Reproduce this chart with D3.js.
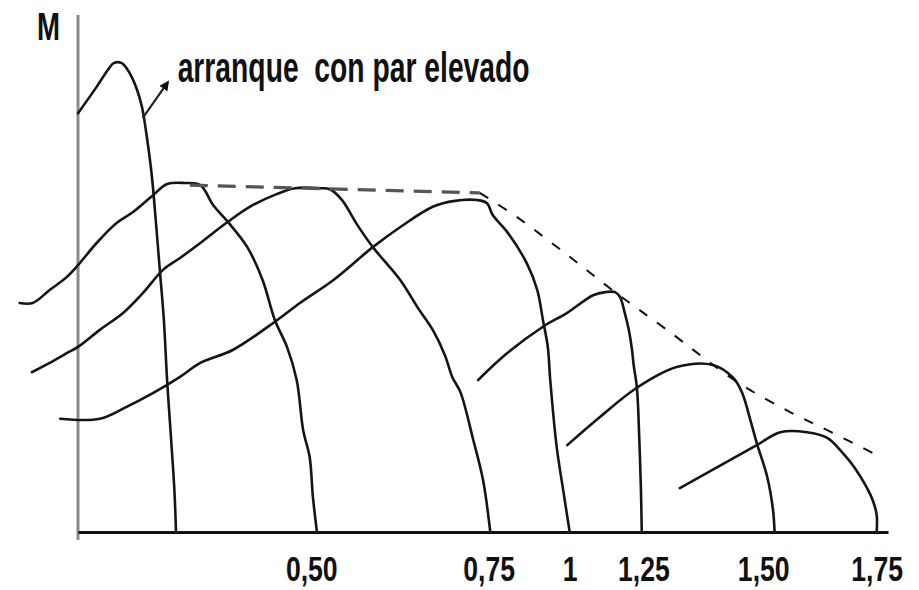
<!DOCTYPE html>
<html>
<head>
<meta charset="utf-8">
<script src="https://cdn.jsdelivr.net/npm/d3@7"></script>
<style>
  html, body { margin: 0; padding: 0; background: #fff; }
  svg { display: block; }
  text { font-family: "Liberation Sans", Arial, sans-serif; font-weight: bold; fill: #111; }
</style>
</head>
<body>
<svg id="chart" width="919" height="590"></svg>
<script>
// Speed axis in percent of axis length, torque (M) in percent of axis height.
const curveNames = ["arranque", "f1", "f2", "f3", "f4", "f5", "f6"];

const speedArranque = [0, 2.3, 3.7, 4.4, 5.4, 6.0, 6.7, 7.3, 7.9, 8.5, 9.1, 9.6, 10.1, 10.6, 11.0, 11.5, 11.9, 12.1];
const torqueArranque = [81.0, 86.1, 89.4, 90.7, 90.7, 89.7, 87.8, 85.5, 82.2, 76.4, 69.1, 60.3, 50.7, 41.0, 29.4, 17.8, 8.1, 0];

const speedF1 = [-7.2, -5.6, -3.5, -1.4, 0, 2.3, 4.8, 6.8, 9.3, 11.0, 13.2, 15.1, 16.7, 18.5, 20.9, 22.8, 24.3, 25.8, 27.0, 27.8, 28.6, 29.0, 29.5];
const torqueF1 = [44.3, 44.3, 46.8, 49.3, 51.6, 55.9, 59.8, 61.9, 65.2, 67.3, 67.5, 67.1, 63.2, 60.0, 55.1, 48.7, 41.0, 35.8, 29.4, 19.7, 14.5, 6.8, 0];

const speedF2 = [-5.7, -3.5, -1.4, 0, 2.7, 5.6, 8.0, 10.5, 12.6, 15.1, 18.5, 21.2, 24.6, 26.8, 29.9, 31.1, 32.6, 34.4, 36.4, 39.8, 41.9, 43.8, 45.3, 46.2, 47.2, 48.8, 50.0, 50.9];
const torqueF2 = [30.9, 32.7, 34.6, 35.8, 39.1, 42.4, 46.2, 50.7, 53.0, 55.9, 60.0, 62.9, 65.4, 66.5, 66.5, 66.3, 64.2, 59.6, 55.1, 48.7, 43.5, 39.1, 34.2, 30.0, 27.1, 17.8, 10.1, 0];

const speedF3 = [-2.2, 2.7, 6.0, 9.3, 12.6, 15.1, 19.1, 24.6, 27.4, 31.5, 36.4, 39.8, 43.8, 46.3, 49.3, 50.5, 51.2, 53.0, 55.4, 56.7, 57.4, 58.0, 58.3, 59.1, 59.9, 60.7];
const torqueF3 = [21.9, 21.9, 24.2, 26.9, 30.0, 32.7, 35.2, 41.0, 44.3, 48.7, 55.1, 59.0, 62.9, 64.0, 64.2, 63.6, 61.3, 58.0, 52.0, 46.8, 41.0, 35.8, 29.4, 16.4, 8.1, 0];

const speedF4 = [49.4, 53.0, 57.4, 60.4, 63.6, 65.1, 66.3, 66.9, 67.5, 68.0, 68.4, 68.6, 69.0, 69.3, 69.5, 69.6];
const torqueF4 = [29.4, 34.6, 39.7, 42.4, 45.8, 46.4, 46.4, 45.5, 42.4, 39.1, 35.2, 32.3, 27.9, 17.8, 8.1, 0];

const speedF5 = [60.4, 64.4, 69.0, 73.9, 78.4, 80.9, 82.0, 83.0, 83.8, 85.1, 85.8, 86.0];
const torqueF5 = [16.8, 22.2, 27.9, 31.9, 32.3, 29.8, 26.9, 21.7, 17.2, 10.6, 4.3, 0];

const speedF6 = [74.3, 83.8, 86.7, 90.0, 92.5, 94.4, 95.9, 97.2, 98.1, 98.6, 98.6];
const torqueF6 = [8.5, 16.8, 19.3, 19.3, 18.2, 15.3, 12.4, 9.1, 6.2, 3.3, 0];

// Envelope of maximum torque: constant part, then falling part
const envFlatSpeed = [13.8, 49.6];
const envFlatTorque = [67.1, 65.6];
const envFallSpeed = [49.6, 54.2, 60.4, 66.3, 72.7, 81.4, 87.9, 92.5, 98.6];
const envFallTorque = [65.6, 60.9, 53.6, 46.4, 39.1, 29.0, 23.2, 19.7, 14.9];

// Speed tick labels (synchronous speeds)
const tickSpeeds = [28.8, 50.7, 60.7, 69.8, 84.6, 98.6];
const tickLabels = ["0,50", "0,75", "1", "1,25", "1,50", "1,75"];

// Annotation
const noteText = "arranque  con par elevado";
const arrowSpeed = [8.0, 11.1];
const arrowTorque = [80.1, 87.0];
const noteAt = [12.3, 87.0];

const svg = d3.select("#chart");
const margin = { left: 78, right: 31, top: 15, bottom: 58 };
const W = 919, H = 590;

const x = d3.scaleLinear().domain([0, 100]).range([margin.left, W - margin.right]);
const y = d3.scaleLinear().domain([0, 100]).range([H - margin.bottom, margin.top]);

const zip = (a, b) => a.map((v, i) => [v, b[i]]);
const series = [
  zip(speedArranque, torqueArranque),
  zip(speedF1, torqueF1),
  zip(speedF2, torqueF2),
  zip(speedF3, torqueF3),
  zip(speedF4, torqueF4),
  zip(speedF5, torqueF5),
  zip(speedF6, torqueF6)
];

const line = d3.line()
  .x(d => x(d[0]))
  .y(d => y(d[1]))
  .curve(d3.curveCatmullRom.alpha(0.5));

// Torque axis (vertical, gray)
svg.append("line")
  .attr("x1", x(0)).attr("x2", x(0))
  .attr("y1", y(100)).attr("y2", y(0) + 8)
  .attr("stroke", "#8a8a8a").attr("stroke-width", 3);

// Speed axis with labels
const xAxis = d3.axisBottom(x)
  .tickValues(tickSpeeds)
  .tickFormat((d, i) => tickLabels[i])
  .tickSize(0)
  .tickSizeOuter(0)
  .tickPadding(0);

const gx = svg.append("g")
  .attr("transform", `translate(0,${y(0)})`)
  .call(xAxis);
gx.select(".domain").attr("stroke", "#111").attr("stroke-width", 3);
gx.selectAll(".tick text")
  .attr("x", 0)
  .attr("y", 0)
  .attr("dy", 0)
  .attr("text-anchor", "middle")
  .attr("font-size", 35)
  .attr("font-family", "Liberation Sans, Arial, sans-serif")
  .attr("font-weight", "bold")
  .attr("fill", "#111")
  .attr("transform", "translate(0,49) scale(0.76,1)");

// Torque-speed curves
svg.append("g")
  .selectAll("path")
  .data(series)
  .join("path")
  .attr("class", (d, i) => "curve " + curveNames[i])
  .attr("d", line)
  .attr("fill", "none")
  .attr("stroke", "#151515")
  .attr("stroke-width", 2.6)
  .attr("stroke-linejoin", "round")
  .attr("stroke-linecap", "round");

// Envelope (dashed)
svg.append("path")
  .attr("d", d3.line().x(d => x(d[0])).y(d => y(d[1]))(zip(envFlatSpeed, envFlatTorque)))
  .attr("fill", "none")
  .attr("stroke", "#555")
  .attr("stroke-width", 3.2)
  .attr("stroke-dasharray", "18 10");

svg.append("path")
  .attr("d", line(zip(envFallSpeed, envFallTorque)))
  .attr("fill", "none")
  .attr("stroke", "#111")
  .attr("stroke-width", 2)
  .attr("stroke-dasharray", "10 12");

// Arrow pointing at the high starting-torque curve
const defs = svg.append("defs");
defs.append("marker")
  .attr("id", "arrow")
  .attr("viewBox", "0 0 10 10")
  .attr("refX", 8).attr("refY", 5)
  .attr("markerWidth", 4.5).attr("markerHeight", 4.5)
  .attr("orient", "auto")
  .append("path")
  .attr("d", "M0,0 L10,5 L0,10 Z")
  .attr("fill", "#111");

svg.append("line")
  .attr("x1", x(arrowSpeed[0])).attr("y1", y(arrowTorque[0]))
  .attr("x2", x(arrowSpeed[1])).attr("y2", y(arrowTorque[1]))
  .attr("stroke", "#222").attr("stroke-width", 2.2)
  .attr("marker-end", "url(#arrow)");

svg.append("text")
  .attr("x", x(noteAt[0]))
  .attr("y", y(noteAt[1]))
  .attr("font-size", 42)
  .attr("textLength", 352)
  .attr("lengthAdjust", "spacingAndGlyphs")
  .style("white-space", "pre")
  .text(noteText);

// Axis title
svg.append("text")
  .attr("x", 37)
  .attr("y", 40)
  .attr("font-size", 39)
  .attr("textLength", 23)
  .attr("lengthAdjust", "spacingAndGlyphs")
  .text("M");
</script>
</body>
</html>
